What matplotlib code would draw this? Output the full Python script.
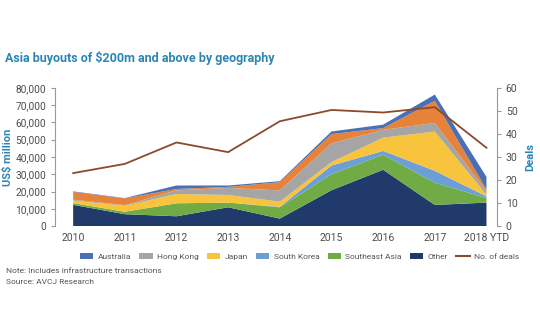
import matplotlib
matplotlib.use("Agg")
import matplotlib.pyplot as plt
from matplotlib.patches import Patch
from matplotlib.lines import Line2D

plt.rcParams["font.family"] = ["Roboto", "DejaVu Sans"]

years = ["2010", "2011", "2012", "2013", "2014", "2015", "2016", "2017", "2018 YTD"]

# US$ million, bottom to top of the stack
other = [12300, 6900, 5700, 10900, 4350, 20750, 32600, 12250, 13600]
southeast_asia = [1000, 1400, 7500, 2700, 6500, 9300, 8700, 12850, 2600]
south_korea = [0, 0, 0, 0, 300, 5000, 2200, 6900, 1000]
japan = [1500, 3500, 5400, 4400, 3000, 2000, 7700, 22700, 1000]
hong_kong = [500, 300, 2100, 4100, 6500, 10800, 4500, 5000, 2000]
china = [4500, 3900, 800, 600, 4750, 5400, 1000, 12800, 1000]
australia = [300, 200, 2000, 800, 600, 1500, 2000, 3600, 7300]

deals = [23, 27, 36.3, 32.1, 45.5, 50.4, 49.3, 51.6, 34]

colors = {
    "Other": "#1f3a6b",
    "Southeast Asia": "#70ab46",
    "South Korea": "#6b9fd6",
    "Japan": "#f8c33d",
    "Hong Kong": "#a5a5a5",
    "China": "#e7823a",
    "Australia": "#4a6fb3",
}
line_color = "#8b4a2a"
blue_text = "#2c86b5"
tick_color = "#4d4d4d"

fig = plt.figure(figsize=(5.4, 3.34), dpi=100, facecolor="white")
ax = fig.add_axes([0.102, 0.323, 0.818, 0.414])
x = list(range(len(years)))

stack = [other, southeast_asia, south_korea, japan, hong_kong, china, australia]
names = ["Other", "Southeast Asia", "South Korea", "Japan", "Hong Kong", "China", "Australia"]
ax.stackplot(x, *stack, colors=[colors[n] for n in names], linewidth=0)

ax.set_ylim(0, 80000)
ax.set_xlim(-0.35, 8.2)
ax.set_yticks(range(0, 80001, 10000))
ax.set_yticklabels([f"{v:,}" for v in range(0, 80001, 10000)])
ax.set_xticks(x)
ax.set_xticklabels(years)
for s in ["top", "right", "bottom"]:
    ax.spines[s].set_visible(False)
ax.spines["left"].set_color("#999999")
ax.tick_params(axis="y", colors="#999999", labelcolor=tick_color, labelsize=7.3, length=3, width=0.8)
ax.tick_params(axis="x", length=0, labelcolor=tick_color, labelsize=7.5, pad=5)
ax.set_ylabel("US$ million", color=blue_text, fontsize=8, fontweight="bold")
ax.yaxis.set_label_coords(-0.095, 0.5)

ax2 = ax.twinx()
ax2.plot(x, deals, color=line_color, lw=1.3)
ax2.set_ylim(0, 60)
ax2.set_yticks(range(0, 61, 10))
for s in ["top", "left", "bottom"]:
    ax2.spines[s].set_visible(False)
ax2.spines["right"].set_color("#999999")
ax2.tick_params(axis="y", colors="#999999", labelcolor=tick_color, labelsize=7.5, length=3, width=0.8)
ax2.set_ylabel("Deals", color=blue_text, fontsize=8, fontweight="bold")
ax2.yaxis.set_label_coords(1.064, 0.5)

fig.text(0.01, 0.825, "Asia buyouts of $200m and above by geography", color=blue_text,
         fontsize=9, fontweight="bold", ha="left", va="center")

legend_names = ["Australia", "Hong Kong", "Japan", "South Korea", "Southeast Asia", "Other"]
handles = [Patch(facecolor=colors[n], edgecolor="none") for n in legend_names]
handles.append(Line2D([0], [0], color=line_color, lw=1.5))
fig.legend(handles, legend_names + ["No. of deals"], loc="center right",
           bbox_to_anchor=(0.975, 0.232), ncol=7, frameon=False, fontsize=6,
           handlelength=1.6, handleheight=0.7, columnspacing=1.0, handletextpad=0.5,
           labelcolor="#555555")

fig.text(0.012, 0.188, "Note: Includes infrastructure transactions", fontsize=6,
         color="#555555", va="center")
fig.text(0.012, 0.155, "Source: AVCJ Research", fontsize=6, color="#555555", va="center")

fig.savefig("out.png", dpi=100)
